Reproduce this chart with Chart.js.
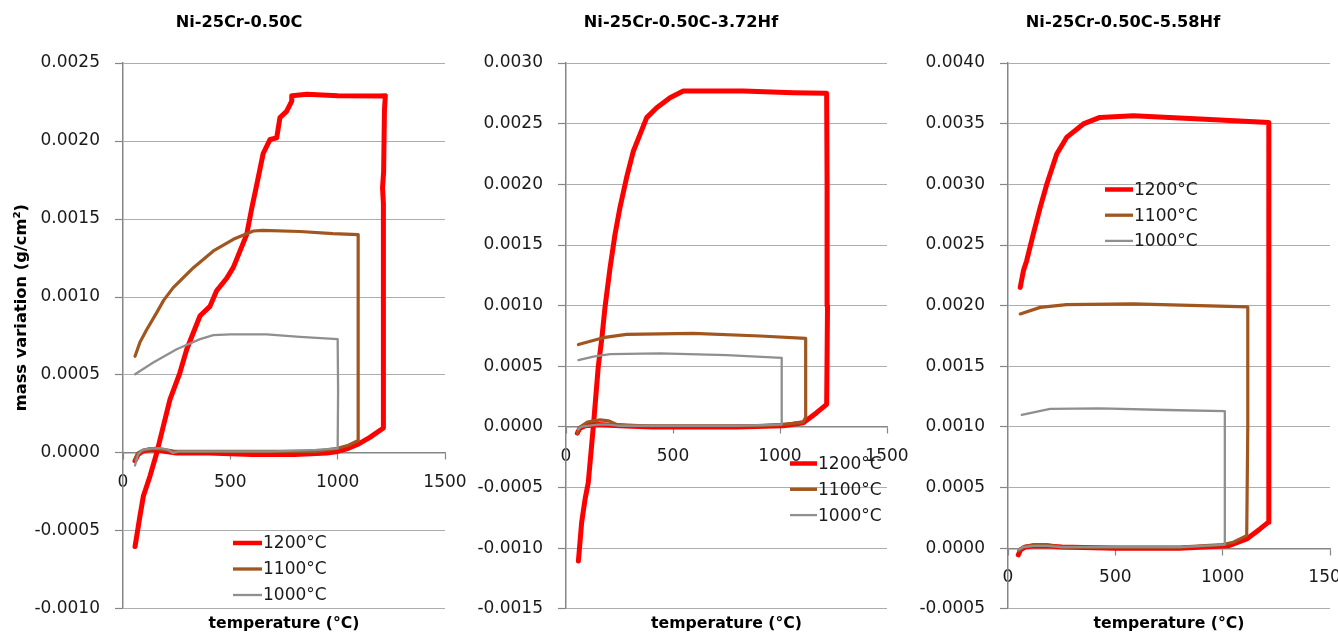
<!DOCTYPE html>
<html><head><meta charset="utf-8">
<script src="https://cdn.jsdelivr.net/npm/chart.js@4.4.1/dist/chart.umd.min.js"></script>
<style>
html,body{margin:0;padding:0;background:#fff;width:1338px;height:635px;overflow:hidden;}
canvas{position:absolute;top:0;}
</style></head><body>
<canvas id="c1" width="478" height="635" style="left:0px"></canvas>
<canvas id="c2" width="454" height="635" style="left:454px"></canvas>
<canvas id="c3" width="430" height="635" style="left:908px"></canvas>
<script>
// ---------- DATA ----------
const seriesLabels = ['1200°C', '1100°C', '1000°C'];
const panelTitles = ['Ni-25Cr-0.50C', 'Ni-25Cr-0.50C-3.72Hf', 'Ni-25Cr-0.50C-5.58Hf'];
const xAxisTitle = 'temperature (°C)';
const yAxisTitle = 'mass variation (g/cm²)';
const xTickValues = [0, 500, 1000, 1500];
const p1YRange = [-0.0010, 0.0025];
const p2YRange = [-0.0015, 0.0030];
const p3YRange = [-0.0005, 0.0040];
const yStep = 0.0005;

// Panel 1 : Ni-25Cr-0.50C
const p1_1200_T = [56,70,90,120,160,200,250,400,600,800,950,1000,1050,1100,1150,1213,1214,1212,1209,1214,1218,1222,1197,1000,856,787,786,762,731,716,685,653,623,600,576,514,483,436,405,359,297,265,219,188,157,126,95,79,56];
const p1_1200_m = [-0.00005,-0.00001,0.00001,0.00002,0.00002,0.00001,0.0,0.0,-0.00001,-0.00001,0.0,0.00001,0.00003,0.00006,0.0001,0.00016,0.0010,0.0016,0.0017,0.0018,0.0022,0.00229,0.002288,0.00229,0.0023,0.00229,0.002256,0.00219,0.00215,0.00202,0.00201,0.00192,0.00172,0.00157,0.0014,0.00119,0.00112,0.00104,0.00094,0.00088,0.000665,0.000514,0.000344,0.000173,0.0,-0.000147,-0.000276,-0.000404,-0.0006];
const p1_1100_T = [56,70,100,150,200,240,400,700,900,1000,1050,1096,1096,1095,978,824,650,607,514,421,328,234,190,157,110,79,56];
const p1_1100_m = [-0.00004,0.0,0.00002,0.00003,0.00002,0.00001,0.00001,0.00001,0.00001,0.00003,0.00005,0.00008,0.0007,0.0014,0.001406,0.00142,0.001427,0.001423,0.00137,0.001295,0.001188,0.00106,0.00098,0.0009,0.00079,0.00071,0.00062];
const p1_1000_T = [56,70,90,130,180,210,233,260,400,700,900,1000,1002,1000,824,669,500,421,359,250,141,56];
const p1_1000_m = [-0.00008,-0.00001,0.00002,0.00003,0.00003,0.00002,0.0,0.00001,0.00001,0.00001,0.00002,0.00003,0.0004,0.00073,0.000745,0.00076,0.00076,0.000755,0.00073,0.000665,0.00058,0.000505];

// Panel 2 : Ni-25Cr-0.50C-3.72Hf
const p2_1200_T = [53,65,90,150,250,400,600,800,1015,1109,1171,1218,1222,1220,1218,1062,828,548,486,424,377,346,315,283,252,229,206,182,167,151,128,104,89,73,58];
const p2_1200_m = [-0.00005,-0.00001,0.00001,0.00002,0.00001,0.0,0.0,0.0,0.00001,0.000035,0.000118,0.000187,0.001,0.002,0.00275,0.002755,0.002769,0.00277,0.002714,0.002632,0.00255,0.002412,0.002275,0.002055,0.001807,0.001588,0.001313,0.000983,0.000723,0.000503,0.00001,-0.000459,-0.000596,-0.000789,-0.001104];
const p2_1100_T = [53,65,100,159,200,237,300,600,900,1000,1060,1108,1120,1120,1120,907,595,283,174,58];
const p2_1100_m = [-0.00005,0.0,0.00004,0.000058,0.00005,0.00002,0.00001,0.00001,0.00001,0.00002,0.00003,0.00004,0.00008,0.0004,0.00073,0.00075,0.000772,0.000764,0.000736,0.00068];
const p2_1000_T = [55,70,100,150,200,250,500,800,1008,1008,751,439,206,128,58];
const p2_1000_m = [-0.00002,0.0,0.00001,0.00002,0.00002,0.00001,0.00001,0.00001,0.00002,0.00057,0.000593,0.000607,0.0006,0.00058,0.000552];

// Panel 3 : Ni-25Cr-0.50C-5.58Hf
const p3_1200_T = [48,60,80,120,180,250,500,800,1026,1112,1174,1212,1215,1215,894,584,428,351,273,227,181,150,118,87,72,57];
const p3_1200_m = [-0.000054,-0.00001,0.00001,0.00002,0.00002,0.00001,0.0,0.0,0.00002,0.000077,0.00016,0.000214,0.0015,0.00351,0.003539,0.003566,0.003552,0.003498,0.003387,0.00325,0.003003,0.00281,0.002591,0.002371,0.002289,0.002151];
const p3_1100_T = [50,70,120,180,250,500,800,1000,1049,1112,1117,1117,894,584,273,150,57];
const p3_1100_m = [-0.00002,0.00001,0.00003,0.00003,0.00001,0.00001,0.00001,0.00003,0.00005,0.000105,0.001,0.00199,0.002,0.002014,0.002008,0.001986,0.001932];
const p3_1000_T = [52,70,120,180,250,500,800,1010,1010,739,428,196,64];
const p3_1000_m = [-0.00001,0.00001,0.00002,0.00002,0.00001,0.00001,0.00001,0.00003,0.00113,0.00114,0.001154,0.001149,0.0011];

// ---------- STYLE ----------
const FONT = "'DejaVu Sans', sans-serif";
const seriesColors = ['#ff0000', '#a0561e', '#8f8f8f'];
const seriesWidths = [5, 3.2, 2.3];
const legendWidths = [4.5, 3.3, 2.3];
const GRID = '#adadad';
const AXIS = '#868686';
const TEXT = '#1a1a1a';

function pts(T, m) { return T.map((t, i) => ({x: t, y: m[i]})); }

const legendPlugin = {
  id: 'excelLegend',
  afterDatasetsDraw(chart, args, o) {
    const ctx = chart.ctx;
    ctx.save();
    chart.data.datasets.forEach((ds, i) => {
      const y = o.y + i * o.gap;
      ctx.beginPath();
      ctx.strokeStyle = ds.borderColor;
      ctx.lineWidth = legendWidths[i];
      ctx.lineCap = 'butt';
      ctx.moveTo(o.x, y);
      ctx.lineTo(o.x + o.len, y);
      ctx.stroke();
      ctx.fillStyle = TEXT;
      ctx.font = '17px ' + FONT;
      ctx.textBaseline = 'middle';
      ctx.textAlign = 'left';
      ctx.fillText(ds.label, o.x + o.len + 1, y + 1);
    });
    ctx.restore();
  }
};

function makeChart(id, title, yRange, series, padLeft, axisW, padRight, legendPos, showYTitle) {
  const datasets = series.map((s, i) => ({
    label: seriesLabels[i],
    data: pts(s[0], s[1]),
    borderColor: seriesColors[i],
    backgroundColor: seriesColors[i],
    borderWidth: seriesWidths[i],
    showLine: true,
    pointRadius: 0,
    tension: 0,
    fill: false,
    borderJoinStyle: 'round',
    borderCapStyle: 'round',
    order: 2 - i,
    xAxisID: 'x',
    yAxisID: 'y'
  }));
  return new Chart(document.getElementById(id), {
    type: 'scatter',
    data: {datasets},
    plugins: [legendPlugin],
    options: {
      responsive: false,
      animation: false,
      devicePixelRatio: 1,
      layout: {padding: {left: padLeft, right: padRight, top: 0, bottom: 0}},
      plugins: {
        legend: {display: false},
        tooltip: {enabled: false},
        title: {
          display: true, text: title, color: '#000',
          font: {family: FONT, size: 16.2, weight: 'bold', lineHeight: 1.2},
          padding: {top: 13.3, bottom: 30.3}
        },
        excelLegend: legendPos
      },
      scales: {
        x: {
          type: 'linear', position: {y: 0}, min: 0, max: 1500,
          afterBuildTicks(scale) { scale.ticks = xTickValues.map(v => ({value: v})); },
          afterFit(scale) { scale.paddingLeft = 0; scale.paddingRight = 0; },
          ticks: {color: TEXT, font: {family: FONT, size: 17}, padding: 13, maxRotation: 0, autoSkip: false,
                  callback: v => String(v)},
          grid: {display: true, drawOnChartArea: false, drawTicks: true, tickLength: 6, tickColor: AXIS, tickWidth: 1.2},
          border: {display: true, color: AXIS, width: 1.5}
        },
        x2: {
          type: 'linear', axis: 'x', position: 'bottom', min: 0, max: 1500,
          afterFit(scale) { scale.paddingLeft = 0; scale.paddingRight = 0; },
          ticks: {display: false},
          grid: {display: false, drawTicks: false},
          border: {display: false},
          title: {display: true, text: xAxisTitle, color: '#000',
                  font: {family: FONT, size: 15.7, weight: 'bold', lineHeight: 1.2},
                  padding: {top: 5.2, bottom: 2}}
        },
        y: {
          type: 'linear', position: 'left', min: yRange[0], max: yRange[1],
          afterFit(scale) { scale.width = axisW; },
          ticks: {stepSize: yStep, color: TEXT, font: {family: FONT, size: 17}, padding: 15,
                  callback: v => (Math.abs(v) < 1e-12 ? 0 : v).toFixed(4)},
          grid: {color: GRID, lineWidth: 1, drawTicks: true, tickLength: 8, tickColor: AXIS, tickWidth: 1.2},
          border: {display: true, color: AXIS, width: 1.5},
          title: {display: showYTitle, text: ' '.repeat(10) + yAxisTitle, color: '#000',
                  font: {family: FONT, size: 16.3, weight: 'bold', lineHeight: 1.2},
                  padding: {top: 22 - padLeft - 9.8, bottom: 0}}
        }
      }
    }
  });
}

makeChart('c1', panelTitles[0], p1YRange,
  [[p1_1200_T, p1_1200_m], [p1_1100_T, p1_1100_m], [p1_1000_T, p1_1000_m]],
  33, 90, 33, {x: 233, y: 543, gap: 26, len: 29}, true);
makeChart('c2', panelTitles[1], p2YRange,
  [[p2_1200_T, p2_1200_m], [p2_1100_T, p2_1100_m], [p2_1000_T, p2_1000_m]],
  21, 91, 21, {x: 336, y: 463.5, gap: 25.8, len: 27}, false);
makeChart('c3', panelTitles[2], p3YRange,
  [[p3_1200_T, p3_1200_m], [p3_1100_T, p3_1100_m], [p3_1000_T, p3_1000_m]],
  8, 92, 8, {x: 197, y: 189.5, gap: 25.7, len: 28}, false);
</script>
</body></html>
